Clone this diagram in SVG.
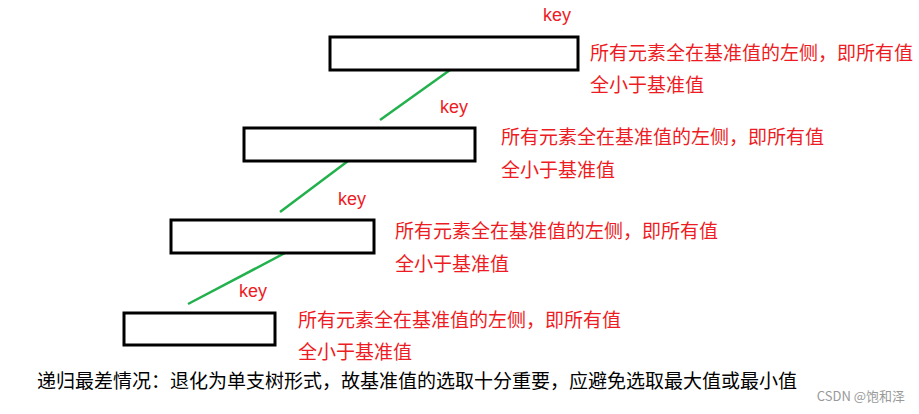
<svg xmlns="http://www.w3.org/2000/svg" width="919" height="414" viewBox="0 0 919 414">
<style>
.box{fill:#fff;stroke:#000;stroke-width:3}
.edge{stroke:#22b14c;stroke-width:2.5;fill:none}
.key{font-family:"Liberation Sans","Noto Sans",sans-serif;font-size:18px;fill:#ed1c24}
.note{font-family:"Noto Sans CJK SC",sans-serif;font-size:19px;fill:#ed1c24}
.cap{font-family:"Noto Sans CJK SC",sans-serif;font-size:19px;fill:#000}
.wm{font-family:"Noto Sans CJK SC",sans-serif;font-size:13px;fill:#999}
</style>
<rect width="919" height="414" fill="#fff"/>
<g id="connectors">
<line class="edge" x1="450" y1="70" x2="380" y2="120"/>
<line class="edge" x1="348" y1="161" x2="280" y2="212"/>
<line class="edge" x1="285" y1="253" x2="188" y2="304"/>
</g>
<g id="node1">
<rect class="box" x="330" y="37" width="248" height="33"/>
<text class="key" x="543" y="21">key</text>
<text class="note" x="590" y="60">所有元素全在基准值的左侧，即所有值</text>
<text class="note" x="590" y="92">全小于基准值</text>
</g>
<g id="node2">
<rect class="box" x="244" y="128" width="231" height="33"/>
<text class="key" x="440" y="113">key</text>
<text class="note" x="501" y="144">所有元素全在基准值的左侧，即所有值</text>
<text class="note" x="501" y="177">全小于基准值</text>
</g>
<g id="node3">
<rect class="box" x="171" y="220" width="203" height="33"/>
<text class="key" x="338" y="205">key</text>
<text class="note" x="395" y="238">所有元素全在基准值的左侧，即所有值</text>
<text class="note" x="395" y="271">全小于基准值</text>
</g>
<g id="node4">
<rect class="box" x="124" y="313" width="151" height="32"/>
<text class="key" x="239" y="297">key</text>
<text class="note" x="298" y="327">所有元素全在基准值的左侧，即所有值</text>
<text class="note" x="298" y="359">全小于基准值</text>
</g>
<text class="cap" x="37" y="388">递归最差情况：退化为单支树形式，故基准值的选取十分重要，应避免选取最大值或最小值</text>
<text class="wm" x="905" y="401" text-anchor="end">CSDN @饱和泽</text>
</svg>
